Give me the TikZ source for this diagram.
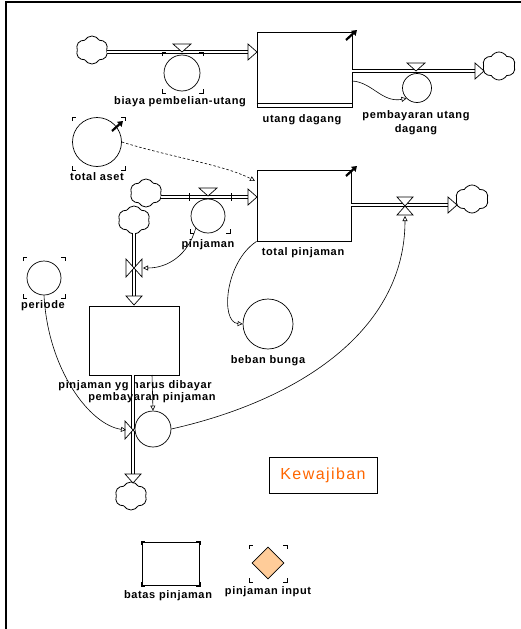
\documentclass[tikz,border=0pt]{standalone}
\usepackage{fontspec}
\setmainfont{Liberation Sans}
\newfontfamily\lblfont{Liberation Sans}[LetterSpace=6]
\newfontfamily\kewfont{Liberation Sans}[LetterSpace=9]
\usetikzlibrary{shapes.symbols,shapes.geometric,arrows.meta}
\definecolor{kew}{RGB}{255,102,0}
\definecolor{peach}{RGB}{255,204,153}
\newcommand\cornermarks[4]{%
  \draw[line width=0.9pt] (#1,#2+4) -- (#1,#2) -- (#1+4,#2);
  \draw[line width=0.9pt] (#3-4,#2) -- (#3,#2) -- (#3,#2+4);
  \draw[line width=0.9pt] (#1,#4-4) -- (#1,#4) -- (#1+4,#4);
  \draw[line width=0.9pt] (#3-4,#4) -- (#3,#4) -- (#3,#4-4);}
\tikzset{
  lbl/.style={font=\lblfont\bfseries\fontsize{11}{14}\selectfont, inner sep=0, align=center},
  stockbox/.style={draw, line width=0.8pt, fill=white, inner sep=0},
  conv/.style={draw, circle, line width=0.7pt, inner sep=0, fill=white},
  pipe/.style={double, double distance=2.6pt, line width=0.8pt},
  conn/.style={line width=0.6pt, -{Triangle[open,length=5pt,width=5pt]}},
  cloudy/.style={cloud, cloud puffs=6, cloud puff arc=120, aspect=1.25, draw, line width=0.8pt,
     minimum width=32pt, minimum height=28pt, inner sep=0, fill=white},
  headR/.pic={\draw[line width=0.7pt, fill=white] (-9,-8) -- (0,0) -- (-9,8) -- cycle;},
  headD/.pic={\draw[line width=0.7pt, fill=white] (-8,-9) -- (0,0) -- (8,-9) -- cycle;},
  valveTop/.pic={\draw[line width=0.7pt, fill=white] (-9,-8) -- (9,-8) -- (0,0) -- cycle;},
  valveH/.pic={\draw[line width=0.7pt, fill=white] (-8,-9) -- (8,-9) -- (0,0) -- cycle (-8,9) -- (8,9) -- (0,0) -- cycle;},
  valveV/.pic={\draw[line width=0.7pt, fill=white] (-8,-9) -- (-8,9) -- (0,0) -- cycle (8,-9) -- (8,9) -- (0,0) -- cycle;},
  ornament/.style={line width=2.2pt, -{Triangle[length=5pt,width=6.5pt]}},
}
\begin{document}
\begin{tikzpicture}[x=1pt,y=-1pt]
\useasboundingbox (0,0) rectangle (521,629);
% frame
\draw[line width=2.5pt] (6,629) -- (6,2) -- (521,2);

% ---------- utang dagang ----------
\node[stockbox, minimum width=95pt, minimum height=75pt] (ud) at (304.5,69.5) {};
\draw[line width=0.8pt] (ud.south west |- 0,103.5) -- (ud.south east |- 0,103.5);
\draw[ornament] (346,40) -- (357,30);
\node[lbl] at (302,120) {utang dagang};

\node[cloudy] (c1) at (92,50) {};
\coordinate (p1a) at (107,52);
\coordinate (p1b) at (248,52);
\coordinate (p1c) at (257,52);
\draw[pipe] (p1a) -- (p1b);
\pic at (p1c) {headR};
\node[conv, minimum size=36pt] (ba) at (182,73) {};
\pic at (182,52) {valveTop};
\cornermarks{162}{52}{203}{93}
\node[lbl] at (180,102) {biaya pembelian-utang};

\node[cloudy, minimum width=33pt] (c2) at (499,66) {};
\coordinate (p2a) at (352,71);
\coordinate (p2b) at (475,71);
\coordinate (p2c) at (484,71);
\draw[pipe] (p2a) -- (p2b);
\pic at (p2c) {headR};
\node[conv, minimum size=29pt] (pud) at (417,88) {};
\pic at (416,71) {valveTop};
\node[lbl] at (416,123) {pembayaran utang\\dagang};
\coordinate (udr) at (352,81);
\draw[conn] (udr) .. controls (372,82) and (382,103) .. (pud.south west);

% ---------- total aset ----------
\node[conv, minimum size=49pt] (ta) at (97,142) {};
\cornermarks{72}{117}{125}{170}
\draw[ornament] (112,131) -- (123,121);
\node[lbl] at (97,177) {total aset};

% ---------- total pinjaman ----------
\node[stockbox, minimum width=94pt, minimum height=71pt] (tp) at (304,205.5) {};
\draw[ornament] (346,176) -- (357,166);
\node[lbl] at (303,253) {total pinjaman};
\coordinate (tpin) at (255,181);
\draw[conn, dashed, dash pattern=on 2.5pt off 2pt] (ta.east) .. controls (170,157) and (225,165) .. (tpin);

\node[cloudy] (c3) at (146,193) {};
\coordinate (p3a) at (161,197);
\coordinate (p3b) at (248,197);
\coordinate (p3c) at (257,197);
\draw[pipe] (p3a) -- (p3b);
\draw[line width=0.7pt] (189,193) -- (189,201) (231,193) -- (231,201);
\pic at (p3c) {headR};
\node[conv, minimum size=34pt] (pj) at (208,216) {};
\pic at (208,196) {valveTop};
\draw[line width=0.9pt] (190,229) -- (190,233) -- (194,233);
\draw[line width=0.9pt] (226,233) -- (230,233) -- (230,229);
\node[lbl] at (208,245) {pinjaman};

\node[cloudy, minimum width=33pt] (c4) at (472,199) {};
\coordinate (p4a) at (351,205);
\coordinate (p4b) at (448,205);
\coordinate (p4c) at (457,205);
\draw[pipe] (p4a) -- (p4b);
\pic at (p4c) {headR};
\coordinate (v4) at (405,206);
\pic at (v4) {valveH};

% beban bunga
\node[conv, minimum size=50pt] (bb) at (268,324) {};
\node[lbl] at (268,361) {beban bunga};
\draw[conn] (tp.south west) .. controls (225,262) and (220,322) .. (bb.west);

% ---------- pinjaman yg harus dibayar ----------
\node[cloudy] (c5) at (134,220) {};
\coordinate (p5a) at (134,233);
\coordinate (p5b) at (134,296);
\coordinate (p5c) at (134,305);
\draw[pipe] (p5a) -- (p5b);
\pic at (p5c) {headD};
\coordinate (v5) at (134,268);
\pic at (v5) {valveV};
\draw[conn] (pj.south west) .. controls (188,255) and (168,268) .. (143,268);

\node[stockbox, minimum width=90pt, minimum height=69pt] (py) at (134,340.5) {};
\node[lbl] at (135,386) {pinjaman yg harus dibayar};

\coordinate (p6a) at (133,375);
\coordinate (p6b) at (133,474);
\coordinate (p6c) at (133,483);
\draw[pipe] (p6a) -- (p6b);
\node[cloudy] (c6) at (131,496) {};
\pic at (p6c) {headD};
\coordinate (v6) at (133,430);
\pic at (v6) {valveV};
\node[conv, minimum size=36pt] (pp) at (153,429) {};
\node[lbl] at (152,398) {pembayaran pinjaman};
\coordinate (pys) at (152,375);
\draw[conn] (pys) -- (pp.north);

% periode
\node[conv, minimum size=34pt] (per) at (44,278) {};
\cornermarks{23}{257}{65}{298}
\node[lbl] at (43,306) {periode};
\draw[conn] (per.south) .. controls (48,370) and (90,425) .. (126,430);

\draw[conn] (pp.east) .. controls (300,400) and (405,330) .. (405,216);

% ---------- Kewajiban ----------
\node[draw, line width=0.9pt, minimum width=108pt, minimum height=36pt, inner sep=0,
  text=kew, font=\kewfont\fontsize{16}{18}\selectfont] (kw) at (323,475) {Kewajiban};

% ---------- legend ----------
\node[stockbox, line width=0.9pt, minimum width=57pt, minimum height=43pt] (bp) at (170.5,563.5) {};
\cornermarks{141}{541}{200}{586}
\node[lbl] at (168,596) {batas pinjaman};

\node[draw, diamond, fill=peach, line width=0.7pt, minimum width=32pt, minimum height=32pt, inner sep=0] (pi) at (268,563) {};
\cornermarks{249}{545}{287}{582}
\node[lbl] at (268,592) {pinjaman input};
\end{tikzpicture}
\end{document}
